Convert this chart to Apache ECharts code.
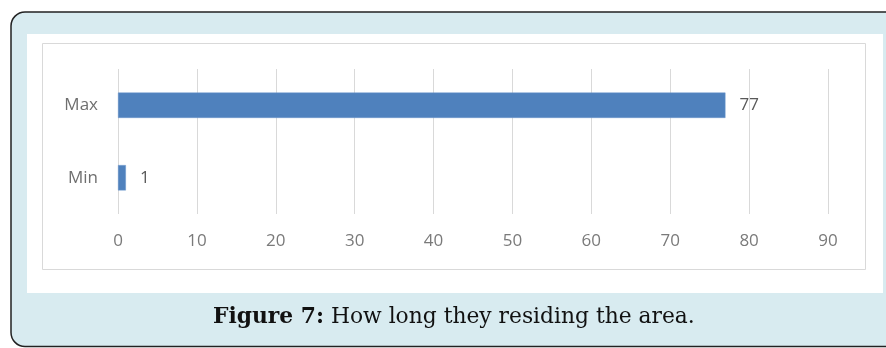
<!DOCTYPE html>
<html>
<head>
<meta charset="utf-8">
<script src="https://cdn.jsdelivr.net/npm/echarts@6/dist/echarts.min.js"></script>
<style>
  html, body { margin: 0; padding: 0; background: #ffffff; }
  #chart { width: 886px; height: 348px; }
</style>
</head>
<body>
<div id="chart"></div>
<script>
// Residence duration summary
const categories = ['Min', 'Max'];
const values = [1, 77];
const xTicks = [0, 10, 20, 30, 40, 50, 60, 70, 80, 90];
const captionBold = 'Figure 7:';
const captionText = ' How long they residing the area.';

const chart = echarts.init(document.getElementById('chart'), null, { renderer: 'canvas' });

chart.setOption({
  animation: false,
  backgroundColor: '#ffffff',
  graphic: [
    {
      type: 'rect', z: -10, silent: true,
      shape: { x: 11, y: 12, width: 900, height: 334.5, r: 14 },
      style: { fill: '#d8ebf0', stroke: '#222222', lineWidth: 1.5 }
    },
    {
      type: 'rect', z: -9, silent: true,
      shape: { x: 27, y: 34, width: 856, height: 259 },
      style: { fill: '#ffffff' }
    },
    {
      type: 'rect', z: -8, silent: true,
      shape: { x: 42.5, y: 43.5, width: 823, height: 226 },
      style: { fill: '#ffffff', stroke: '#d9d9d9', lineWidth: 1 }
    },
    {
      type: 'text', silent: true,
      left: 213, top: 306,
      style: {
        text: '{b|' + captionBold + '}{n|' + captionText + '}',
        rich: {
          b: { fontFamily: 'DejaVu Serif', fontWeight: 'bold', fontSize: 21.8, fill: '#111111' },
          n: { fontFamily: 'DejaVu Serif', fontSize: 21.8, fill: '#111111' }
        }
      }
    }
  ],
  grid: { left: 118, right: 58, top: 69, bottom: 134, containLabel: false },
  xAxis: {
    type: 'value',
    min: 0, max: 90, interval: 10,
    axisLine: { show: false },
    axisTick: { show: false },
    splitLine: { show: true, lineStyle: { color: '#d9d9d9', width: 1 } },
    axisLabel: {
      margin: 19,
      color: '#7a7a7a', fontSize: 17, fontFamily: 'Open Sans',
      formatter: function (v) { return xTicks.indexOf(v) >= 0 ? String(v) : ''; }
    }
  },
  yAxis: {
    type: 'category',
    data: categories,
    axisLine: { show: false },
    axisTick: { show: false },
    splitLine: { show: false },
    axisLabel: { margin: 20, color: '#6f6f6f', fontSize: 17, fontFamily: 'Open Sans' }
  },
  series: [{
    type: 'bar',
    data: values,
    barWidth: '35%',
    itemStyle: { color: '#4f81bd', borderColor: '#6a96cc', borderWidth: 0.5 },
    label: {
      show: true, position: 'right', distance: 14,
      color: '#595959', fontSize: 17, fontFamily: 'Open Sans'
    }
  }]
});
</script>
</body>
</html>
